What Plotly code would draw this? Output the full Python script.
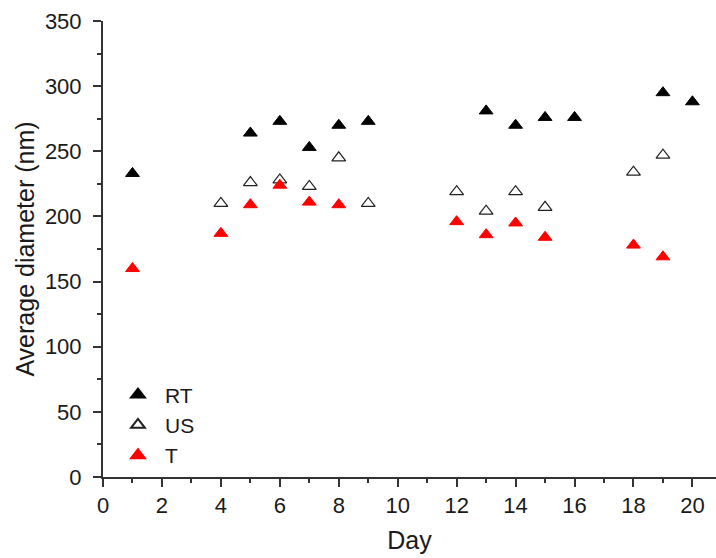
import plotly.graph_objects as go

rt_day = [1, 5, 6, 7, 8, 9, 13, 14, 15, 16, 19, 20]
rt_val = [233, 264, 273, 253, 270, 273, 281, 270, 276, 276, 295, 288]

us_day = [4, 5, 6, 7, 8, 9, 12, 13, 14, 15, 18, 19]
us_val = [210, 226, 228, 223, 245, 210, 219, 204, 219, 207, 234, 247]

t_day = [1, 4, 5, 6, 7, 8, 12, 13, 14, 15, 18, 19]
t_val = [160, 187, 209, 224, 211, 209, 196, 186, 195, 184, 178, 169]

FONT = "Liberation Sans, Arial, sans-serif"

fig = go.Figure()
fig.add_trace(go.Scatter(x=rt_day, y=rt_val, mode="markers", name="RT",
                         marker=dict(symbol="triangle-up", size=12, color="black",
                                     line=dict(color="black", width=1))))
fig.add_trace(go.Scatter(x=us_day, y=us_val, mode="markers", name="US",
                         marker=dict(symbol="triangle-up-open", size=12, color="#222",
                                     line=dict(width=1.2))))
fig.add_trace(go.Scatter(x=t_day, y=t_val, mode="markers", name="T",
                         marker=dict(symbol="triangle-up", size=12, color="#ff0000",
                                     line=dict(color="#ff0000", width=1))))

axis_common = dict(showgrid=False, zeroline=False, showline=True, linecolor="#333",
                   linewidth=2, ticks="outside", ticklen=8, tickwidth=1.5, tickcolor="#333",
                   tickfont=dict(family=FONT, size=22, color="#1a1a1a"),
                   mirror=False)

fig.update_layout(
    width=716, height=558,
    margin=dict(l=103, r=0, t=21, b=81),
    paper_bgcolor="white", plot_bgcolor="white",
    font=dict(family=FONT, color="#1a1a1a"),
    showlegend=True,
    legend=dict(x=0.013, y=0.225, xanchor="left", yanchor="top",
                font=dict(family=FONT, size=21, color="#1a1a1a"),
                bgcolor="rgba(0,0,0,0)", itemsizing="constant", tracegroupgap=0,
                itemwidth=44),
    xaxis=dict(range=[0, 20.8], dtick=2, tick0=0,
               title=dict(text="Day", font=dict(family=FONT, size=25, color="#1a1a1a"), standoff=14),
               minor=dict(ticks="outside", ticklen=4, dtick=1, tickcolor="#333", tickwidth=1.5),
               **axis_common),
    yaxis=dict(range=[0, 350], dtick=50, tick0=0, ticklabelstandoff=7,
               title=dict(text="Average diameter (nm)", font=dict(family=FONT, size=25, color="#1a1a1a"), standoff=3),
               minor=dict(ticks="outside", ticklen=4, dtick=25, tickcolor="#333", tickwidth=1.5),
               **axis_common),
)

fig.write_html("out.html")
